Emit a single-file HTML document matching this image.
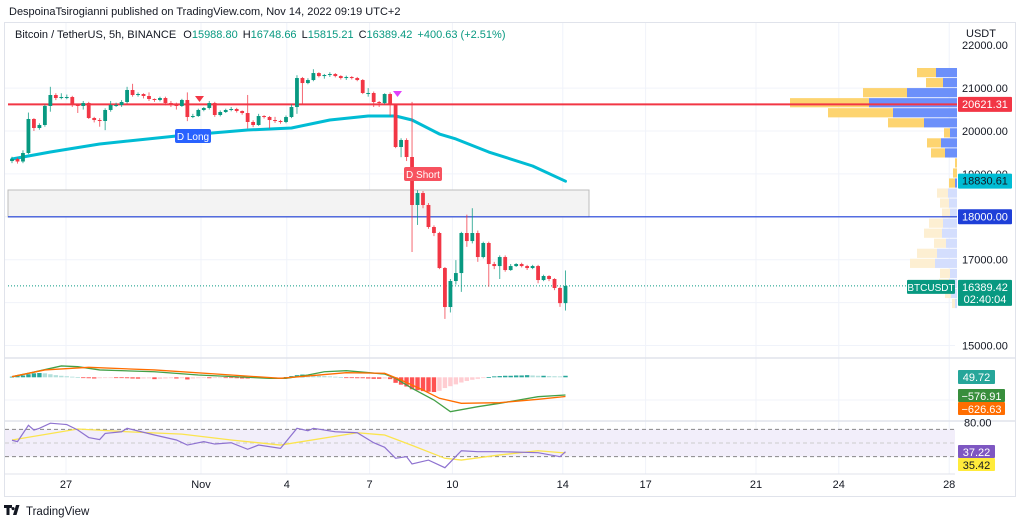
<!DOCTYPE html>
<html><head><meta charset="utf-8"><style>
html,body{margin:0;padding:0;background:#fff;width:1024px;height:526px;overflow:hidden}
svg{display:block;font-family:"Liberation Sans",sans-serif}
</style></head><body>
<svg id="c" width="1024" height="526" viewBox="0 0 1024 526" xmlns="http://www.w3.org/2000/svg">
<text x="9" y="15" font-size="11" fill="#131722">DespoinaTsirogianni published on TradingView.com, Nov 14, 2022 09:19 UTC+2</text>
<rect x="4.5" y="22.5" width="1011" height="474" fill="none" stroke="#e0e3eb"/>
<g id="grid"></g>
<g id="main"></g>
<g id="macd"></g>
<g id="rsi"></g>
<g id="axis"></g>
<text x="15" y="38" font-size="11" fill="#131722">Bitcoin / TetherUS, 5h, BINANCE <tspan dx="4">O</tspan><tspan fill="#089981">15988.80</tspan><tspan dx="5">H</tspan><tspan fill="#089981">16748.66</tspan><tspan dx="5">L</tspan><tspan fill="#089981">15815.21</tspan><tspan dx="5">C</tspan><tspan fill="#089981">16389.42</tspan><tspan dx="5" fill="#089981">+400.63 (+2.51%)</tspan></text>
<text x="966" y="37" font-size="11" fill="#131722">USDT</text>
<g>
<path d="M4 505h8v3h-2.5v7h-3v-7H4z M13 507a1.6 1.6 0 1 0 .1 0z M16 505h3.5l-3 10h-3.5z" fill="#131722"/>
<text x="26" y="515" font-size="11.5" fill="#131722">TradingView</text>
</g>
</svg>
<script>
// ---- price data (5h candles) ----
const closes=[19347,19289,19487,20280,20070,20140,20583,20839,20769,20792,20792,20606,20583,20652,20303,20256,20233,20490,20606,20606,20676,20956,20839,20862,20816,20746,20723,20769,20652,20629,20583,20723,20326,20349,20490,20536,20652,20373,20443,20490,20513,20466,20419,20210,20140,20349,20326,20256,20233,20210,20326,20559,21235,21118,21188,21351,21281,21305,21328,21281,21235,21258,21235,21188,20886,20886,20676,20652,20862,20606,19627,19790,19394,18275,18554,18275,17762,17622,16806,15897,16503,16689,17622,17435,17622,17062,17389,16899,16852,17062,16759,16852,16899,16852,16806,16852,16526,16620,16550,16340,15988,16389];
const highs=[19400,19380,19550,20430,20300,20180,20620,21030,20880,20880,20850,20820,20640,20700,20680,20330,20300,20530,20700,20660,20720,21030,21100,20900,20880,20900,20760,20800,20800,20700,20660,20750,20900,20400,20520,20560,20700,20680,20480,20520,20560,20540,20480,20840,20250,20400,20370,20350,20330,20260,20360,20620,21300,21260,21230,21440,21370,21330,21370,21350,21300,21290,21280,21260,21210,21000,20920,20700,20880,20900,20640,19830,19830,20680,18620,18600,18320,17800,17650,16830,16550,16990,17650,18050,18200,17680,17420,17420,16950,17100,17100,16900,16920,16930,16880,16880,16880,16650,16640,16570,16370,16749];
const lows=[19250,19240,19250,19460,20000,20030,20100,20450,20720,20740,20740,20560,20420,20500,20280,20200,20100,20020,20450,20560,20560,20640,20800,20800,20760,20700,20680,20690,20600,20560,20500,20560,20230,20300,20330,20460,20500,20330,20340,20420,20460,20430,20380,20060,20090,20120,20290,20060,20190,20170,20180,20300,20400,20640,21090,21160,21250,21220,21260,21250,21200,21190,21200,21160,20860,20800,20560,20560,20620,20350,19600,19390,19300,17180,17810,18200,17720,17550,16780,15620,15770,16420,16250,17300,17380,16950,17030,16370,16780,16550,16720,16740,16830,16820,16760,16780,16450,16500,16500,16290,15900,15815];
const firstOpen=19300;
const maIdx=[1,8,17,31,44,52,59,66,71,74,79,82,88,96,102];
const maVal=[19347,19510,19697,19883,20023,20070,20256,20350,20350,20256,19930,19814,19510,19184,18830];
const priceTicks=[22000,21000,20000,19000,17000,15000];
const xLabels=["27","Nov","4","7","10","14","17","21","24","28"];
const xLabelDay=[0,5,8,11,14,18,21,25,28,32]; // days since Oct 27
// volume profile rows (top row price 21480, 234 per row)
const vpSell=[19,17,44,79,65,36,6,14,14,2,4,6,11,9,8,14,18,12,20,25,10,10,6,3];
const vpBuy=[21,14,50,88,64,33,7,16,12,0,0,2,9,8,7,14,15,11,20,22,7,8,6,2];
// MACD
const macdIdx=[1,4,10,13,17,27,35,48,51,55,58,62,69,71,74,78,81,86,90,97,102];
const macdVal=[20,130,370,345,240,180,75,-33,-33,75,180,215,107,-33,-358,-740,-1120,-957,-847,-632,-577];
const sigIdx=[1,7,15,27,41,50,62,69,72,76,79,83,90,97,102];
const sigVal=[20,240,325,240,75,-33,150,130,-88,-414,-684,-847,-827,-717,-626];
const hist=[20,40,60,100,130,140,130,100,70,50,35,20,10,-20,-30,-40,-30,-25,-20,-20,-25,-30,-40,-45,-40,-35,-60,-50,-40,-30,-40,-30,-70,-40,-30,-20,-30,-20,-15,-20,-25,-30,-40,-40,-30,-20,-15,-20,-15,-10,10,40,70,90,80,60,50,40,30,20,10,-10,-20,-30,-30,-40,-50,-50,-40,-60,-180,-240,-300,-390,-420,-450,-470,-480,-440,-350,-290,-230,-170,-120,-80,-50,-25,10,30,40,50,50,60,60,70,60,50,50,40,35,30,50];
// RSI
const rsiIdx=[1,2,4,5,6,8,11,13,15,17,18,21,22,27,31,33,36,38,41,44,46,50,53,55,56,60,64,67,69,71,73,74,77,80,83,86,90,97,101,102];
const rsiVal=[54,52,76,69,71.5,79,77,69,58,55,64,66.5,71.5,61.7,54.4,47,52,48.5,50.4,40.8,47,42.2,71.5,68,71.5,66.5,65,50.4,43.7,27.6,30,19.3,25,13.8,38.7,37.3,37.3,35.8,30,37.2];
const rsiMaIdx=[1,13,22,32,41,50,64,69,74,80,83,90,97,102];
const rsiMaVal=[54.4,70.5,66.5,63,54.4,47,65,61.7,46.5,27.6,25,32.5,38.7,35.4];

const NS="http://www.w3.org/2000/svg";
function mk(parent,tag,attrs){const e=document.createElementNS(NS,tag);for(const k in attrs)e.setAttribute(k,attrs[k]);parent.appendChild(e);return e;}
const X=i=>12+(i-1)*5.48;
const dayX=d=>d===5?201:66+d*27.6;
const Y=p=>131-(p-20000)*0.0429;
const MY=v=>377.3-v*0.0307;
const RY=v=>443-(v-50)*0.683;
const grid=document.getElementById('grid'),main=document.getElementById('main'),
 macd=document.getElementById('macd'),rsi=document.getElementById('rsi'),axis=document.getElementById('axis');

// grid
for(let k=0;k<xLabels.length;k++){const x=dayX(xLabelDay[k]);
 const g=mk(grid,'line',{x1:x,x2:x,y1:23,y2:474,stroke:'#f0f3fa'});
 
 
 const t=mk(axis,'text',{x:x,y:488,'font-size':11,fill:'#131722','text-anchor':'middle'});t.textContent=xLabels[k];
 
 }
[21000,20000,19000,18000,17000,16000,15000].forEach(p=>{const g=mk(grid,'line',{x1:5,x2:955,y1:Y(p),y2:Y(p),stroke:'#f0f3fa'});
 
 });
[358,421].forEach(y=>{const l=mk(grid,'line',{x1:5,x2:1015,y1:y,y2:y,stroke:'#e0e3eb','stroke-width':1.5});
 
 });
mk(grid,'line',{x1:5,x2:955,y1:400,y2:400,stroke:'#f0f3fa'});
mk(grid,'line',{x1:5,x2:955,y1:474,y2:474,stroke:'#e0e3eb'});

// price ticks
priceTicks.forEach(p=>{const t=mk(axis,'text',{x:962,y:Y(p)+4,'font-size':11,fill:'#131722'});t.textContent=p.toFixed(2);
 
 });

// zone rectangle
const zone=mk(main,'rect',{x:8,y:190,width:581,height:27,fill:'#f3f3f3',stroke:'#bdbdbd'});



// volume profile
for(let r=0;r<vpSell.length;r++){const top=Y(21480-r*234)+0.5;const h=9.2;const faded=r>=12;
 const b=mk(main,'rect',{x:957-vpBuy[r],y:top,width:vpBuy[r],height:h,fill:faded?'#d4defd':'#6c90fa'});
 
 
 const s=mk(main,'rect',{x:957-vpBuy[r]-vpSell[r],y:top,width:vpSell[r],height:h,fill:faded?'#fdefd2':'#fdd470'});
 
 }

// horizontal lines
const rl=mk(main,'line',{x1:8,x2:957,y1:Y(20621.31),y2:Y(20621.31),stroke:'#f23645','stroke-width':2});


const bl=mk(main,'line',{x1:8,x2:957,y1:Y(18000),y2:Y(18000),stroke:'#1e3fd8','stroke-width':1.2});


const last=closes[closes.length-1];
const dl=mk(main,'line',{x1:8,x2:906,y1:Y(last),y2:Y(last),stroke:'#089981','stroke-dasharray':'1 2'});



// MA line
let d='';maIdx.forEach((i,k)=>{d+=(k?'L':'M')+X(i)+' '+Y(maVal[k]);});
const ma=mk(main,'path',{d:d,fill:'none',stroke:'#00bcd4','stroke-width':3,'stroke-linejoin':'round','stroke-linecap':'round'});



// candles
for(let i=0;i<closes.length;i++){const o=i?closes[i-1]:firstOpen,c=closes[i];const up=c>=o;const col=up?'#089981':'#f23645';
 const x=X(i+1);const g=mk(main,'g',{});
 
 
 mk(g,'line',{x1:x,x2:x,y1:Y(highs[i]),y2:Y(lows[i]),stroke:col,'stroke-width':1,opacity:0.75});
 const t=Y(Math.max(o,c)),b=Y(Math.min(o,c));
 mk(g,'rect',{x:x-1.9,y:t,width:3.8,height:Math.max(1,b-t),fill:col});}

// markers
const m1=mk(main,'path',{d:'M195 96h9l-4.5 6z',fill:'#f23645'});
const m2=mk(main,'path',{d:'M393 91h9l-4.5 6z',fill:'#e040fb'});
const lg=mk(main,'g',{});
mk(lg,'rect',{x:175,y:129,width:36,height:14,rx:2,fill:'#2962ff'});
const lt=mk(lg,'text',{x:193,y:140,'font-size':10,fill:'#fff','text-anchor':'middle'});lt.textContent='D Long';
const sg=mk(main,'g',{});
mk(sg,'rect',{x:404,y:167,width:38,height:14,rx:2,fill:'#f7525f'});
const st=mk(sg,'text',{x:423,y:178,'font-size':10,fill:'#fff','text-anchor':'middle'});st.textContent='D Short';

// MACD
hist.forEach((v,i)=>{const prev=i?hist[i-1]:0;let col;
 if(v>=0)col=v>=prev?'#26a69a':'#b2dfdb';else col=v<=prev?'#ff5252':'#ffcdd2';
 const y0=MY(0),y1=MY(v);const r=mk(macd,'rect',{x:X(i+1)-2.2,y:Math.min(y0,y1),width:4.4,height:Math.max(0.8,Math.abs(y1-y0)),fill:col});
 
 });
d='';macdIdx.forEach((i,k)=>{d+=(k?'L':'M')+X(i)+' '+MY(macdVal[k]);});
const ml=mk(macd,'path',{d:d,fill:'none',stroke:'#43a047','stroke-width':1.3});
d='';sigIdx.forEach((i,k)=>{d+=(k?'L':'M')+X(i)+' '+MY(sigVal[k]);});
const sl=mk(macd,'path',{d:d,fill:'none',stroke:'#ff6d00','stroke-width':1.3});

// RSI
const band=mk(rsi,'rect',{x:5,y:RY(70),width:950,height:RY(30)-RY(70),fill:'#f2eefa'});
[[70,'#888'],[50,'#ccc'],[30,'#888']].forEach(([v,c])=>{const l=mk(rsi,'line',{x1:5,x2:955,y1:RY(v),y2:RY(v),stroke:c,'stroke-dasharray':'4 3'});
 
 });
d='';rsiMaIdx.forEach((i,k)=>{d+=(k?'L':'M')+X(i)+' '+RY(rsiMaVal[k]);});
const ry=mk(rsi,'path',{d:d,fill:'none',stroke:'#fbe44d','stroke-width':1.3});
d='';rsiIdx.forEach((i,k)=>{d+=(k?'L':'M')+X(i)+' '+RY(rsiVal[k]);});
const rp=mk(rsi,'path',{d:d,fill:'none',stroke:'#8e72d0','stroke-width':1.2});
const t80=mk(axis,'text',{x:964,y:RY(80)+4,'font-size':11,fill:'#131722'});t80.textContent='80.00';


// price labels on axis
function tag(y,h,bg,fg,txt,name,x,w,fs){const g=mk(axis,'g',{});
 
 
 mk(g,'rect',{x:x||958,y:y,width:w||54,height:h,fill:bg,rx:1});
 txt.forEach((s,k)=>{const t=mk(g,'text',{x:(x||958)+(w||54)/2,y:y+11+k*12,'font-size':fs||11,fill:fg,'text-anchor':'middle'});t.textContent=s;});}
tag(Y(20621.31)-7.5,15,'#f23645','#fff',['20621.31'],'resistance-price-tag');
tag(Y(18830.61)-7.5,15,'#00bcd4','#131722',['18830.61'],'ma-price-tag');
tag(Y(18000)-7.5,15,'#1e3fd8','#fff',['18000.00'],'support-price-tag');
tag(Y(last)-6,26,'#089981','#fff',['16389.42','02:40:04'],'last-price-tag');
tag(Y(last)-6,14,'#089981','#fff',['BTCUSDT'],'symbol-tag',907,48,10);
tag(370,14,'#26a69a','#fff',['49.72'],'histogram-value-tag',958,37);
tag(389,13,'#388e3c','#fff',['−576.91'],'macd-value-tag',958,47);
tag(402,13,'#ff6d00','#fff',['−626.63'],'signal-value-tag',958,47);
tag(445,13,'#7e57c2','#fff',['37.22'],'rsi-value-tag',958,37);
tag(458,13,'#ffeb3b','#131722',['35.42'],'rsi-ma-value-tag',958,37);
</script>
</body></html>
